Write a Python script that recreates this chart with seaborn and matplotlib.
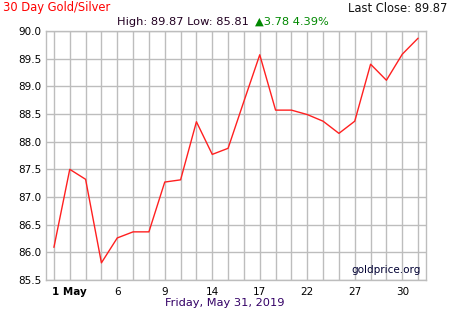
import matplotlib
matplotlib.use("Agg")
import matplotlib.pyplot as plt
import seaborn as sns
import pandas as pd

# ---- data ----
dates = ["Apr 30", "May 1", "May 2", "May 3", "May 6", "May 7", "May 8", "May 9",
         "May 10", "May 13", "May 14", "May 15", "May 16", "May 17", "May 20",
         "May 21", "May 22", "May 23", "May 24", "May 27", "May 28", "May 29",
         "May 30", "May 31"]
ratio = [86.09, 87.50, 87.32, 85.81, 86.26, 86.37, 86.37, 87.27, 87.31, 88.36,
         87.77, 87.88, 88.73, 89.57, 88.57, 88.57, 88.49, 88.37, 88.15, 88.37,
         89.40, 89.11, 89.58, 89.87]
tick_labels = {"May 1": "1 May", "May 6": "6", "May 9": "9", "May 14": "14",
               "May 17": "17", "May 22": "22", "May 27": "27", "May 30": "30"}
y_ticks = [85.5, 86.0, 86.5, 87.0, 87.5, 88.0, 88.5, 89.0, 89.5, 90.0]

df = pd.DataFrame({"idx": range(len(dates)), "date": dates, "ratio": ratio})

sns.set_style("white")
plt.rcParams["font.family"] = ["DejaVu Sans"]

W, H = 450, 311
fig = plt.figure(figsize=(W / 100, H / 100), dpi=100)
L, R, T, B = 46, 426, 31, 280
ax = fig.add_axes([L / W, 1 - B / H, (R - L) / W, (B - T) / H])

sns.lineplot(data=df, x="idx", y="ratio", ax=ax, color="#ff2020", linewidth=1.0)

ax.set_xlim(-0.5, len(dates) - 0.5)
ax.set_ylim(85.5, 90.0)
ax.set_xticks(df["idx"])
ax.set_xticklabels([tick_labels.get(d, "") for d in dates])
for lbl, d in zip(ax.get_xticklabels(), dates):
    if d == "May 1":
        lbl.set_fontweight("bold")
ax.set_yticks(y_ticks)
ax.set_yticklabels([f"{v:.1f}" for v in y_ticks])
ax.tick_params(axis="both", length=0, labelsize=7.5, colors="#000000", pad=3)
ax.tick_params(axis="x", pad=5)
ax.grid(True, color="#bdbdbd", linewidth=1.0)
ax.set_axisbelow(True)
for s in ax.spines.values():
    s.set_color("#bdbdbd")
    s.set_linewidth(1.0)
ax.set_xlabel("")
ax.set_ylabel("")

ax.text(0.985, 0.02, "goldprice.org", transform=ax.transAxes, ha="right", va="bottom",
        fontsize=7.5, color="#000033")

def fx(px):
    return px / W

def fy(py):
    return 1 - py / H

fig.text(fx(3), fy(8), "30 Day Gold/Silver", color="#ff0000", fontsize=8.3, ha="left", va="center")
fig.text(fx(447), fy(8), "Last Close: 89.87", color="#111111", fontsize=8.3, ha="right", va="center")
fig.text(fx(252), fy(22), "High: 89.87 Low: 85.81 ", color="#220022", fontsize=8.2, ha="right", va="center")
fig.text(fx(255), fy(22), "\u25b23.78 4.39%", color="#008800", fontsize=8.2, ha="left", va="center")
fig.text(fx(225), fy(303), "Friday, May 31, 2019", color="#330066", fontsize=8.2, ha="center", va="center")

fig.savefig("out.png", dpi=100)
